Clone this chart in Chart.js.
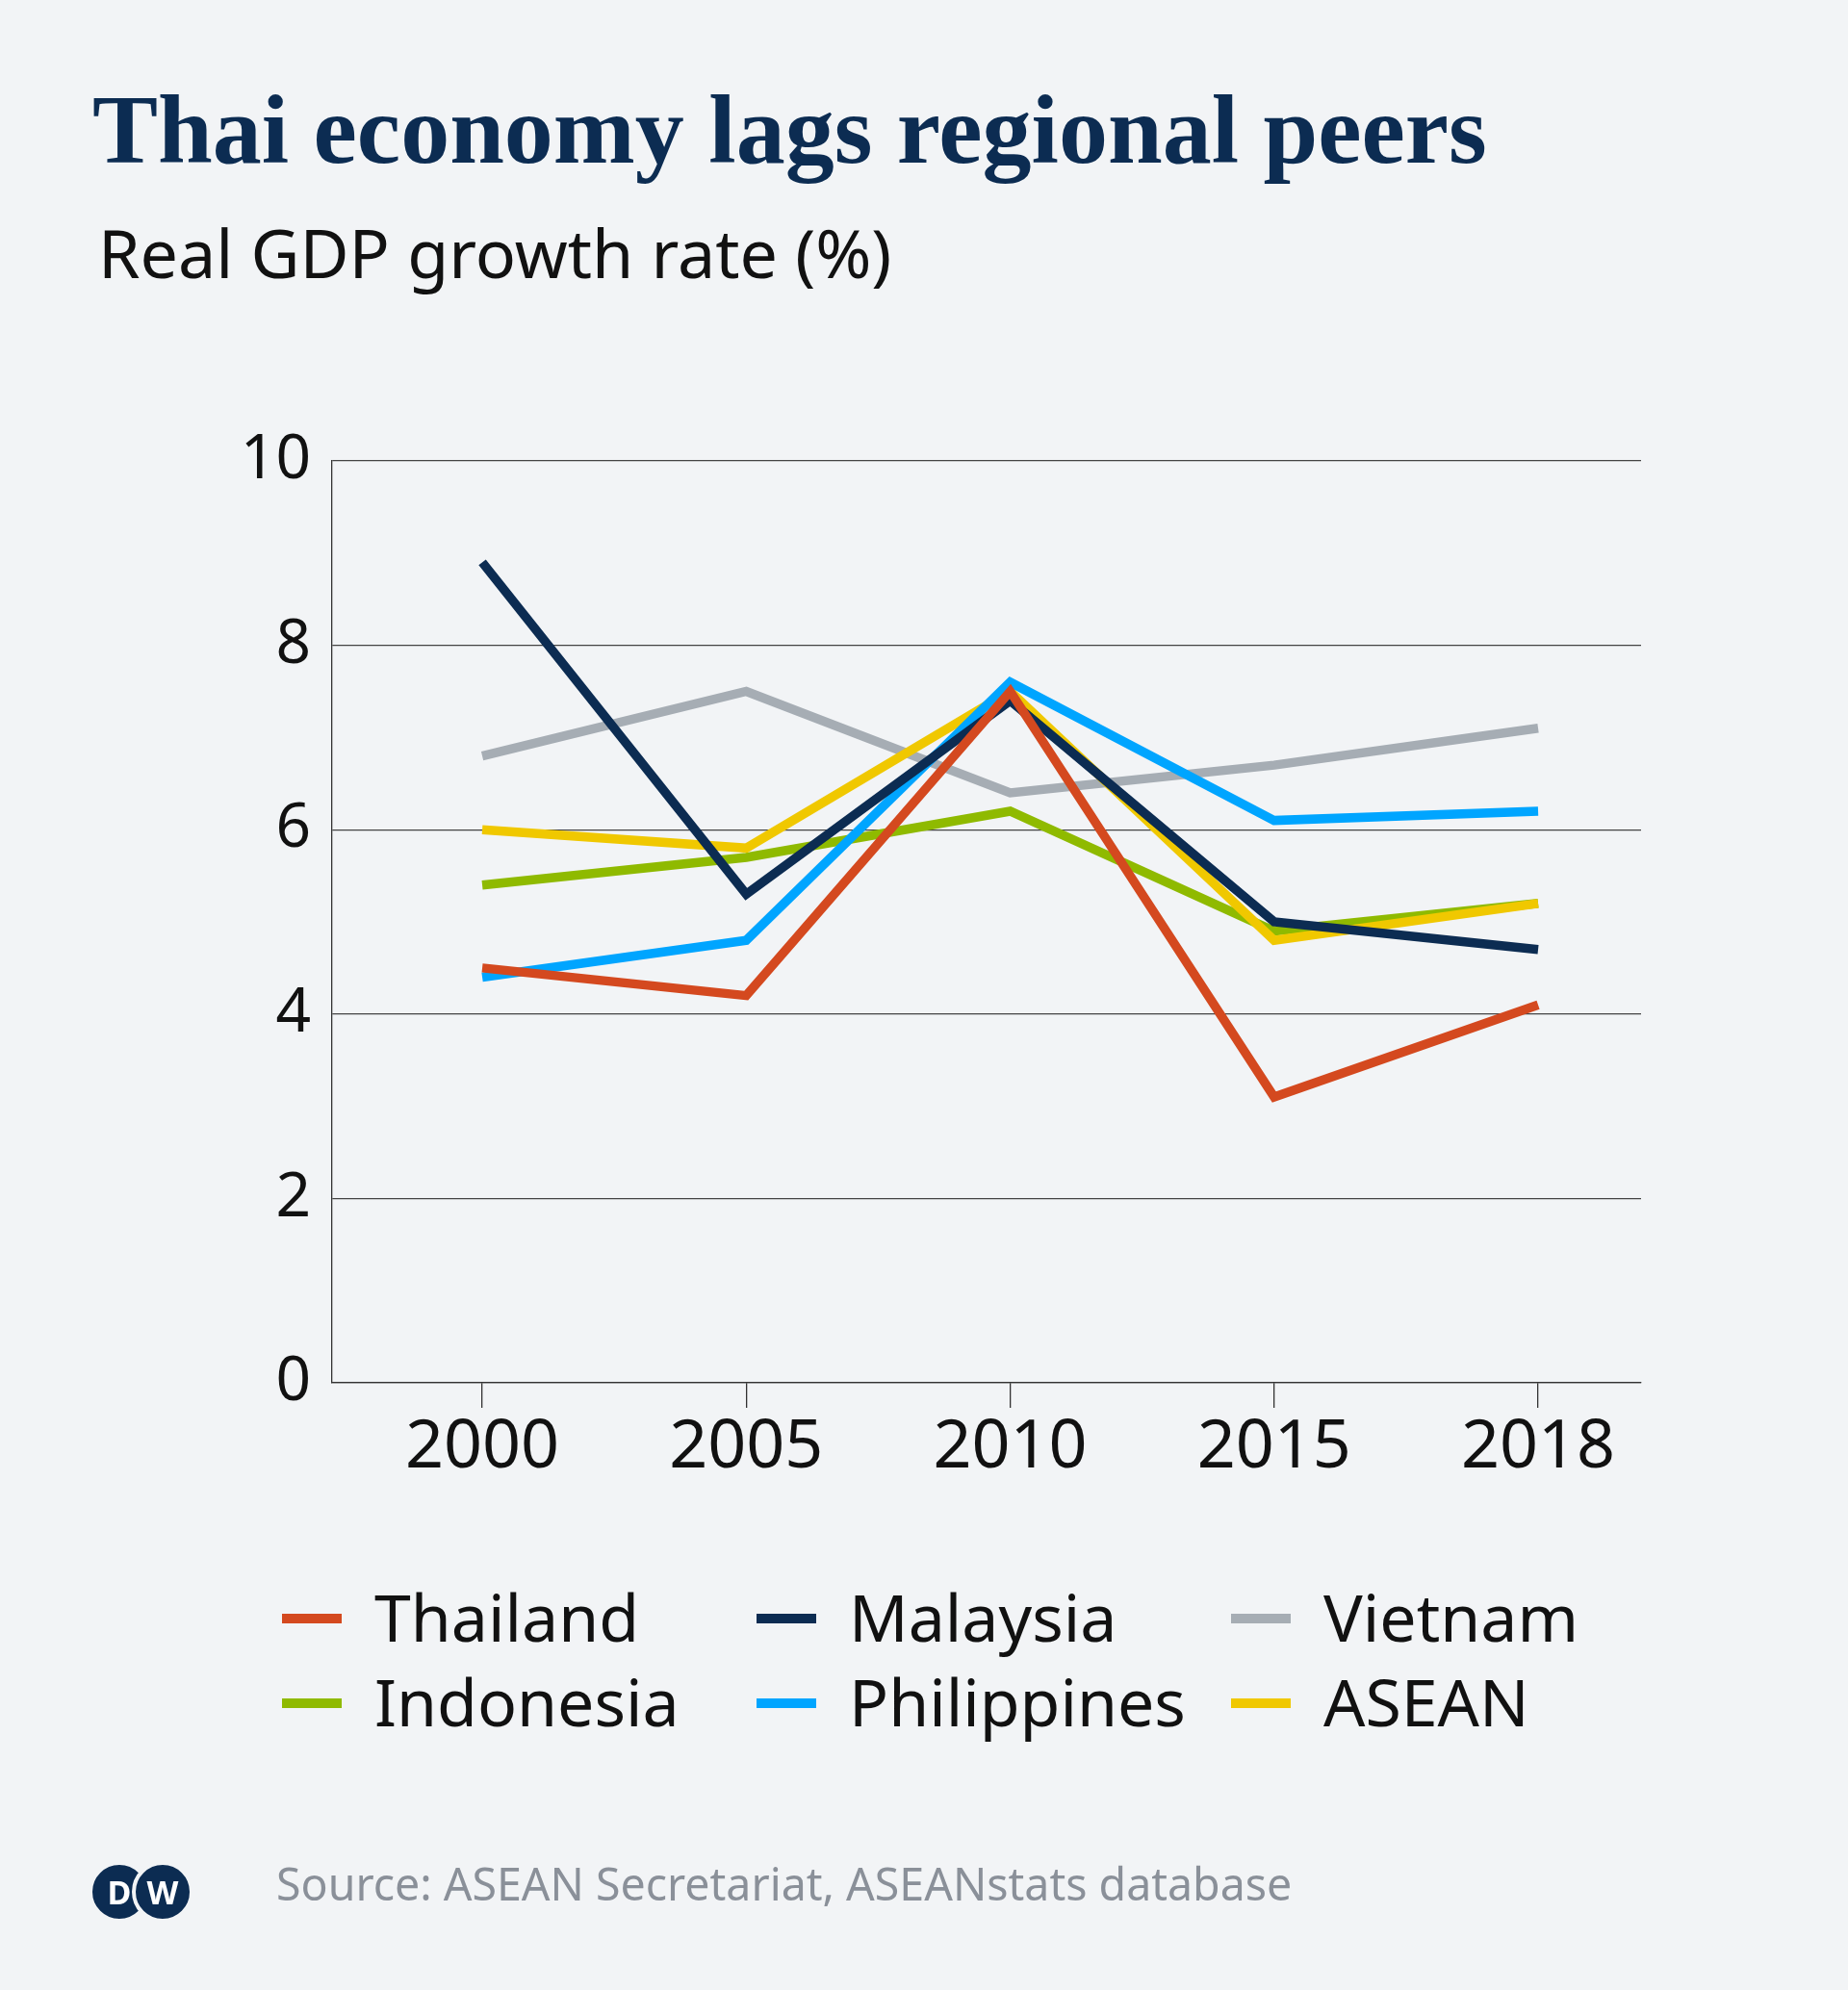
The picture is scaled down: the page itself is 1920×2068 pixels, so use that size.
<!DOCTYPE html>
<html>
<head>
<meta charset="utf-8">
<script src="https://cdn.jsdelivr.net/npm/chart.js@4"></script>
<style>
  body { margin: 0; background: #f2f4f6; width: 1920px; height: 2068px; overflow: hidden; position: relative; font-family: "Noto Sans", sans-serif; }
  #title { position: absolute; left: 96px; top: 76px; font-family: "Liberation Serif", serif; font-weight: bold; font-size: 102px; color: #0c2c52; }
  #subtitle { position: absolute; left: 102px; top: 214px; font-size: 70px; color: #111; }
  #wrap { position: absolute; left: 0; top: 0; width: 1920px; height: 2068px; }
  .leg { position: absolute; font-size: 68px; color: #111; line-height: 80px; }
  .leg i { position: absolute; left: -96px; top: 37px; width: 62px; height: 10px; }
  #source { position: absolute; left: 287px; top: 1925px; font-size: 46.5px; color: #8a9099; }
  .dw { position: absolute; top: 1934px; width: 56px; height: 56px; border-radius: 50%; background: #0c2c52; color: #fff; font-weight: bold; font-size: 34px; text-align: center; line-height: 56px; border: 4px solid #f2f4f6; }
</style>
</head>
<body>
<div id="title">Thai economy lags regional peers</div>
<div id="subtitle">Real GDP growth rate (%)</div>
<div id="wrap"><canvas id="chart" width="1920" height="2068"></canvas></div>
<div id="legend"></div>
<div class="dw" style="left:92px">D</div>
<div class="dw" style="left:137px">W</div>
<div id="source">Source: ASEAN Secretariat, ASEANstats database</div>
<script>
// Dados
const years = ['2000', '2005', '2010', '2015', '2018'];
const yTicks = [0, 2, 4, 6, 8, 10];
const thailand = [4.5, 4.2, 7.5, 3.1, 4.1];
const malaysia = [8.9, 5.3, 7.4, 5.0, 4.7];
const vietnam = [6.8, 7.5, 6.4, 6.7, 7.1];
const indonesia = [5.4, 5.7, 6.2, 4.9, 5.2];
const philippines = [4.4, 4.8, 7.6, 6.1, 6.2];
const asean = [6.0, 5.8, 7.5, 4.8, 5.2];

const series = [
    { label: 'Thailand', data: thailand, color: '#d4491f' },
    { label: 'Malaysia', data: malaysia, color: '#0c2c52' },
    { label: 'Vietnam', data: vietnam, color: '#a6adb4' },
    { label: 'Indonesia', data: indonesia, color: '#8fba00' },
    { label: 'Philippines', data: philippines, color: '#00a5ff' },
    { label: 'ASEAN', data: asean, color: '#f0c800' }
];
// ordem de desenho (Thailand por cima)
const drawOrder = { Thailand: 0, Malaysia: 1, Philippines: 2, ASEAN: 3, Indonesia: 4, Vietnam: 5 };

// Legenda em HTML
const legendPos = [[389, 1640], [882, 1640], [1375, 1640], [389, 1728], [882, 1728], [1375, 1728]];
const legendOrder = ['Thailand', 'Malaysia', 'Vietnam', 'Indonesia', 'Philippines', 'ASEAN'];
legendOrder.forEach((name, i) => {
    const s = series.find(x => x.label === name);
    const el = document.createElement('div');
    el.className = 'leg';
    el.style.left = legendPos[i][0] + 'px';
    el.style.top = legendPos[i][1] + 'px';
    el.innerHTML = `<i style="background:${s.color}"></i>${name}`;
    document.getElementById('legend').appendChild(el);
});

new Chart(document.getElementById('chart'), {
    type: 'line',
    data: {
        datasets: series.map(s => ({
            label: s.label,
            data: s.data.map((v, i) => ({ x: i, y: v })),
            borderColor: s.color,
            borderWidth: 9.5,
            pointRadius: 0,
            tension: 0,
            order: drawOrder[s.label],
            borderJoinStyle: 'miter'
        }))
    },
    options: {
        responsive: false,
        animation: false,
        layout: { padding: { left: 225, top: 479, right: 215, bottom: 531 } },
        plugins: { legend: { display: false }, tooltip: { enabled: false } },
        scales: {
            x: {
                type: 'linear',
                min: -0.569,
                max: 4.39,
                afterBuildTicks: scale => { scale.ticks = years.map((y, i) => ({ value: i })); },
                afterFit: scale => { scale.height = 100; },
                ticks: {
                    callback: (v) => years[v],
                    font: { family: 'Noto Sans', size: 70 },
                    color: '#111',
                    padding: 0,
                    maxRotation: 0,
                    autoSkip: false
                },
                grid: { drawOnChartArea: false, color: '#333', tickLength: 26, lineWidth: 1.3 },
                border: { color: '#333', width: 1.3 }
            },
            y: {
                min: 0,
                max: 10,
                afterBuildTicks: scale => { scale.ticks = yTicks.map(v => ({ value: v })); },
                afterFit: scale => { scale.width = 120; },
                ticks: {
                    font: { family: 'Noto Sans', size: 64 },
                    color: '#111',
                    padding: 22
                },
                grid: { color: '#444', lineWidth: 1.3, tickLength: 0 },
                border: { color: '#333', width: 1.3 }
            }
        }
    }
});
</script>
</body>
</html>
